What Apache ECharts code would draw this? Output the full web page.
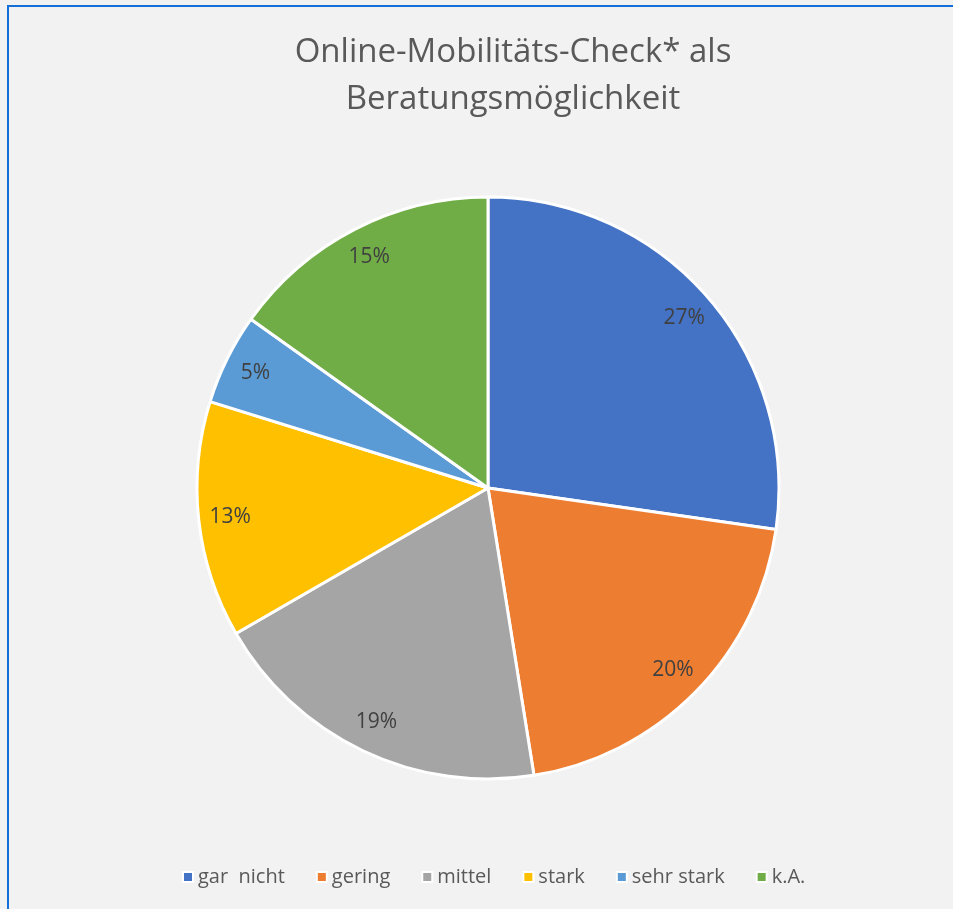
<!DOCTYPE html>
<html>
<head>
<meta charset="utf-8">
<script src="https://cdn.jsdelivr.net/npm/echarts@6/dist/echarts.min.js"></script>
<style>
  html, body { margin: 0; padding: 0; background: #f2f2f2; }
  #chart { width: 953px; height: 909px; }
</style>
</head>
<body>
<div id="chart"></div>
<script>
// data
const categories = ['gar  nicht', 'gering', 'mittel', 'stark', 'sehr stark', 'k.A.'];
const shares = [27, 20, 19, 13, 5, 15];
const colors = ['#4472C4', '#ED7D31', '#A5A5A5', '#FFC000', '#5B9BD5', '#70AD47'];

const font = '"Open Sans", "Noto Sans", sans-serif';
const pieData = categories.map((name, i) => ({ name, value: shares[i] }));

const chart = echarts.init(document.getElementById('chart'));

chart.setOption({
  backgroundColor: '#f2f2f2',
  color: colors,
  animation: false,
  title: {
    text: 'Online-Mobilitäts-Check* als\nBeratungsmöglichkeit',
    left: 508,
    top: 24,
    textAlign: 'center',
    textStyle: {
      color: '#595959',
      fontFamily: font,
      fontSize: 33,
      fontWeight: 'normal',
      lineHeight: 47
    }
  },
  legend: {
    data: categories,
    bottom: 17,
    left: 177,
    icon: 'rect',
    itemWidth: 10,
    itemHeight: 10,
    itemGap: 31,
    textStyle: { color: '#595959', fontFamily: font, fontSize: 20 }
  },
  graphic: [{
    // the blue frame around the chart area (runs off the right/bottom)
    type: 'rect',
    shape: { x: 8, y: 6, width: 1100, height: 1100 },
    style: { fill: 'none', stroke: '#1470d8', lineWidth: 2 },
    silent: true
  }],
  series: [
    {
      type: 'pie',
      center: [488, 488],
      radius: 291,
      startAngle: 90,
      clockwise: true,
      data: pieData,
      itemStyle: { borderColor: '#ffffff', borderWidth: 3 },
      label: { show: false },
      labelLine: { show: false },
      emphasis: { disabled: true }
    },
    {
      // transparent ring only used to place the value labels near the rim
      type: 'pie',
      center: [488, 488],
      radius: [222, 291],
      startAngle: 90,
      clockwise: true,
      silent: true,
      data: pieData,
      itemStyle: { color: 'rgba(0,0,0,0)', borderWidth: 0 },
      label: {
        show: true,
        position: 'inside',
        formatter: p => p.value + '%',
        color: '#404040',
        fontFamily: font,
        fontSize: 21
      },
      labelLine: { show: false },
      emphasis: { disabled: true }
    }
  ]
});
</script>
</body>
</html>
